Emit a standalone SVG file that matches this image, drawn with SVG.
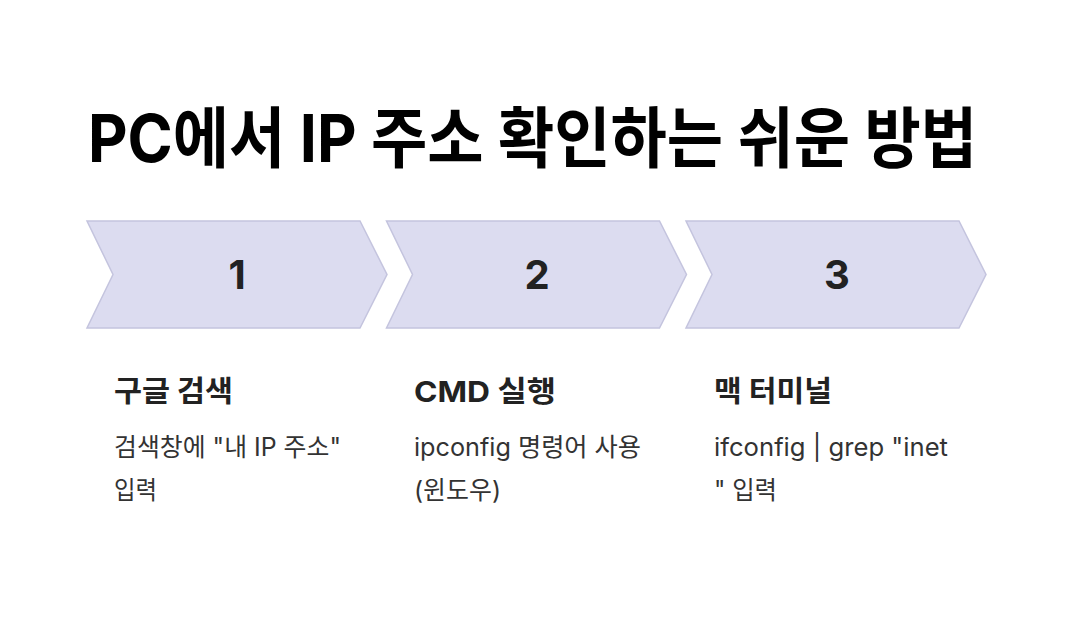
<svg xmlns="http://www.w3.org/2000/svg" width="1074" height="632" viewBox="0 0 1074 632">
<style>
text{font-family:Inter,"Noto Sans CJK KR",sans-serif}
.title{font-size:66px;font-weight:700;fill:#000}
.chev{fill:#dcdcf0;stroke:#c4c4de;stroke-width:1.5}
.num{font-size:40px;font-weight:700;fill:#222;text-anchor:middle}
.head{font-size:29px;font-weight:700;fill:#222}
.body{font-size:25px;fill:#333}
</style>
<rect width="1074" height="632" fill="#fff"/>
<text class="title" x="88" y="162" textLength="889" lengthAdjust="spacingAndGlyphs">PC에서 IP 주소 확인하는 쉬운 방법</text>
<g id="step1">
<path class="chev" d="M87,221 L360,221 L387,274.5 L360,328 L87,328 L113,274.5 Z"/>
<text class="num" x="237" y="289">1</text>
<text class="head" x="114" y="402" textLength="119" lengthAdjust="spacingAndGlyphs">구글 검색</text>
<text class="body" x="114" y="456" textLength="227" lengthAdjust="spacingAndGlyphs">검색창에 "내 IP 주소"</text>
<text class="body" x="114" y="499" textLength="43" lengthAdjust="spacingAndGlyphs">입력</text>
</g>
<g id="step2">
<path class="chev" d="M386.5,221 L659.5,221 L686.5,274.5 L659.5,328 L386.5,328 L412.5,274.5 Z"/>
<text class="num" x="537" y="289">2</text>
<text class="head" x="414" y="402" textLength="142" lengthAdjust="spacingAndGlyphs">CMD 실행</text>
<text class="body" x="414" y="456" textLength="227" lengthAdjust="spacingAndGlyphs">ipconfig 명령어 사용</text>
<text class="body" x="414" y="499" textLength="87" lengthAdjust="spacingAndGlyphs">(윈도우)</text>
</g>
<g id="step3">
<path class="chev" d="M686,221 L959,221 L986,274.5 L959,328 L686,328 L712,274.5 Z"/>
<text class="num" x="837" y="289">3</text>
<text class="head" x="714" y="402" textLength="118" lengthAdjust="spacingAndGlyphs">맥 터미널</text>
<text class="body" x="714" y="456" textLength="234" lengthAdjust="spacingAndGlyphs">ifconfig | grep "inet</text>
<text class="body" x="714" y="499" textLength="63" lengthAdjust="spacingAndGlyphs">" 입력</text>
</g>
<g id="connectors"/>
</svg>
